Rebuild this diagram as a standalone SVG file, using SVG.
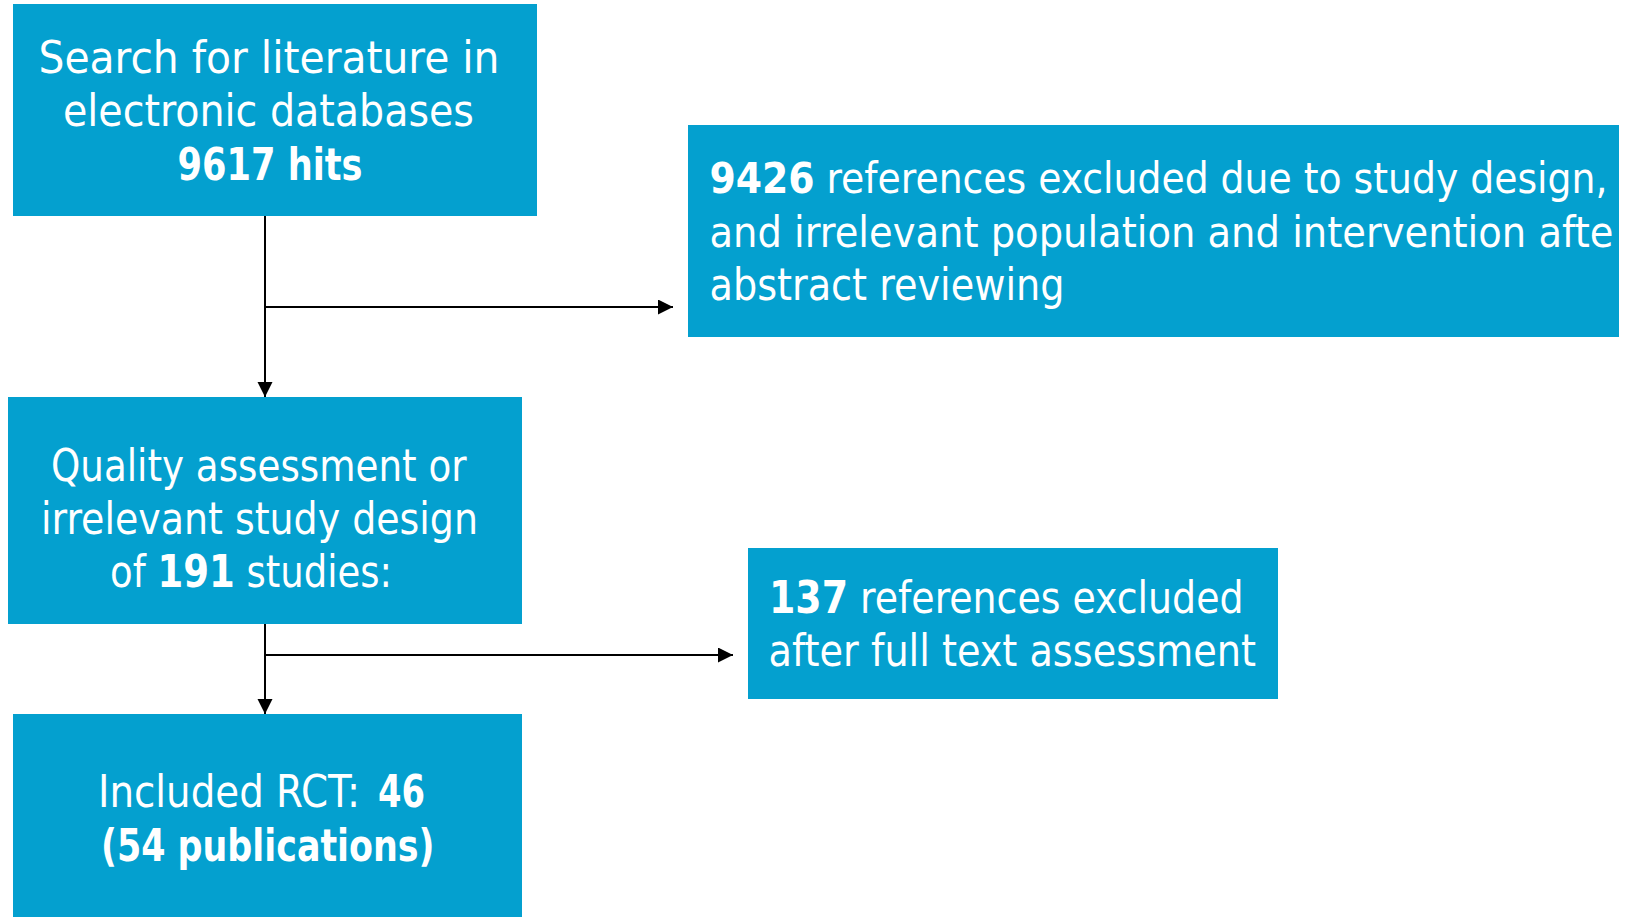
<svg xmlns="http://www.w3.org/2000/svg" width="1635" height="917" viewBox="0 0 1635 917">
<style>
.box{fill:#04A0CF}
.t{font-family:"DejaVu Sans Condensed","DejaVu Sans",sans-serif;font-stretch:condensed;font-size:44px;fill:#fff}
.s{font-size:42.5px}
.b{font-weight:bold}
.ln{stroke:#000;stroke-width:2;fill:none}
</style>
<defs>
<marker id="ah" markerUnits="userSpaceOnUse" markerWidth="16" markerHeight="16" refX="15" refY="7.5" orient="auto">
<path d="M0,0 L15,7.5 L0,15 z" fill="#000"/>
</marker>
</defs>
<g id="connectors">
<line class="ln" x1="265" y1="216" x2="265" y2="397" marker-end="url(#ah)"/>
<line class="ln" x1="265" y1="307" x2="673" y2="307" marker-end="url(#ah)"/>
<line class="ln" x1="265" y1="624" x2="265" y2="714" marker-end="url(#ah)"/>
<line class="ln" x1="265" y1="655" x2="733" y2="655" marker-end="url(#ah)"/>
</g>
<g id="search">
<rect class="box" x="13" y="4" width="524" height="212"/>
<text class="t" x="38.5" y="73" textLength="461" lengthAdjust="spacingAndGlyphs">Search for literature in</text>
<text class="t" x="63" y="126" textLength="411" lengthAdjust="spacingAndGlyphs">electronic databases</text>
<text class="t b" x="177.5" y="180" textLength="185" lengthAdjust="spacingAndGlyphs">9617 hits</text>
</g>
<g id="excluded1">
<rect class="box" x="688" y="125" width="931" height="212"/>
<text class="t s" x="709.5" y="193" textLength="898" lengthAdjust="spacingAndGlyphs"><tspan class="b">9426</tspan> references excluded due to study design,</text>
<text class="t s" x="709.5" y="247" textLength="904" lengthAdjust="spacingAndGlyphs">and irrelevant population and intervention afte</text>
<text class="t" x="709.5" y="300" textLength="355" lengthAdjust="spacingAndGlyphs">abstract reviewing</text>
</g>
<g id="quality">
<rect class="box" x="8" y="397" width="514" height="227"/>
<text class="t" x="51" y="481" textLength="415.5" lengthAdjust="spacingAndGlyphs">Quality assessment or</text>
<text class="t" x="41" y="534" textLength="437" lengthAdjust="spacingAndGlyphs">irrelevant study design</text>
<text class="t" x="110" y="587" textLength="282" lengthAdjust="spacingAndGlyphs">of <tspan class="b">191</tspan> studies:</text>
</g>
<g id="excluded2">
<rect class="box" x="748" y="548" width="530" height="151"/>
<text class="t" x="769" y="613" textLength="474.5" lengthAdjust="spacingAndGlyphs"><tspan class="b">137</tspan> references excluded</text>
<text class="t" x="768.5" y="666" textLength="487.5" lengthAdjust="spacingAndGlyphs">after full text assessment</text>
</g>
<g id="included">
<rect class="box" x="13" y="714" width="509" height="203"/>
<text class="t" x="98" y="807" textLength="262" lengthAdjust="spacingAndGlyphs">Included RCT:</text>
<text class="t b" x="378" y="807" textLength="47" lengthAdjust="spacingAndGlyphs">46</text>
<text class="t b" x="101" y="861" textLength="333.5" lengthAdjust="spacingAndGlyphs">(54 publications)</text>
</g>
</svg>
